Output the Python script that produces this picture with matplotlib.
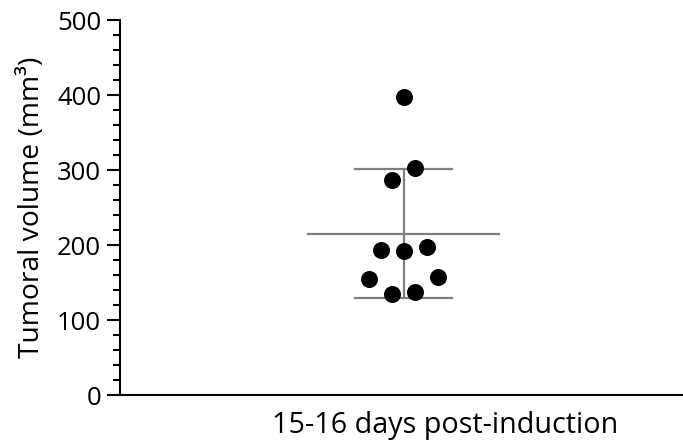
import matplotlib
matplotlib.use("Agg")
import matplotlib.pyplot as plt
import numpy as np
from matplotlib.ticker import MultipleLocator

plt.rcParams['font.family'] = ['Open Sans', 'DejaVu Sans']

category = "15-16 days post-induction"
volumes = [397, 303, 287, 193, 192, 197, 155, 157, 135, 137]
# beeswarm column offsets (in dot-widths) for each point
swarm_offsets = [0, 1, -1, -2, 0, 2, -3, 3, -1, 1]
y_label = "Tumoral volume (mm³)"
y_ticks = [0, 100, 200, 300, 400, 500]

vals = np.array(volumes, dtype=float)
mean = vals.mean()
sd = vals.std(ddof=1)

fig = plt.figure(figsize=(6.83, 4.48), dpi=100)
ax = fig.add_axes([120/683, 53/448, 563/683, 375/448])

x0 = 0.0
ax.scatter(x0 + np.array(swarm_offsets), vals, s=150, color='black', zorder=3, linewidths=0)

gray = '#7f7f7f'
ax.plot([x0 - 8.3, x0 + 8.3], [mean, mean], color=gray, lw=1.6, zorder=2)
ax.plot([x0, x0], [mean - sd, mean + sd], color=gray, lw=1.6, zorder=2)
for yy in (mean - sd, mean + sd):
    ax.plot([x0 - 4.2, x0 + 4.2], [yy, yy], color=gray, lw=1.6, zorder=2)

ax.set_xlim(-24.65, 24.3)
ax.set_ylim(0, 500)
ax.set_yticks(y_ticks)
ax.yaxis.set_minor_locator(MultipleLocator(20))
ax.tick_params(axis='y', which='major', length=9.5, width=1.5, labelsize=18.5, pad=4, direction='out')
ax.tick_params(axis='y', which='minor', length=5, width=1.5)
ax.set_xticks([])
ax.spines['top'].set_visible(False)
ax.spines['right'].set_visible(False)
ax.spines['left'].set_linewidth(1.5)
ax.spines['bottom'].set_linewidth(1.5)
ax.set_ylabel(y_label, fontsize=20.3, labelpad=8)
ax.text(x0 + 3.6, -21, category, fontsize=20.7, ha='center', va='top')

fig.savefig("out.png", dpi=100)
